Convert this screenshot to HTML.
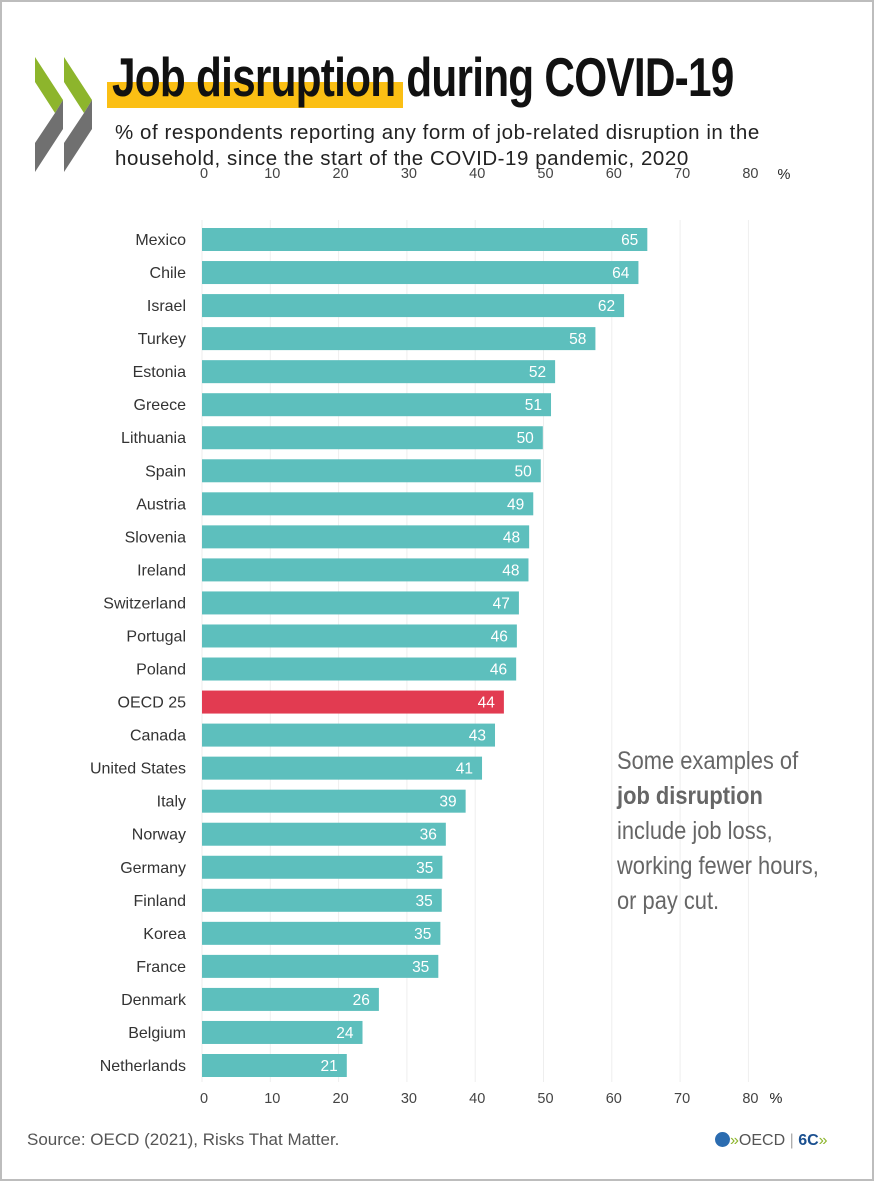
<!DOCTYPE html>
<html><head><meta charset="utf-8"><style>
body{margin:0;background:#fff;}
#wrap{position:relative;width:870px;height:1177px;border:2px solid #bdbdbd;overflow:hidden;font-family:"Liberation Sans",sans-serif;background:#fff}
.t{position:absolute;white-space:nowrap}
</style></head><body>
<div id="wrap">
<svg class="t" style="left:0;top:0" width="100" height="190">
<g fill="#8db52c"><polygon points="33,55 61,98 53,111 33,80"/><polygon points="62,55 90,98 82,111 62,80"/></g>
<g fill="#707070"><polygon points="53,111 61,98 61,127 33,170 33,141"/><polygon points="82,111 90,98 90,127 62,170 62,141"/></g>
</svg>
<div class="t" style="left:105px;top:80px;width:296px;height:26px;background:#fbbf14"></div>
<div class="t" style="left:110px;top:43px;font-size:55px;font-weight:bold;letter-spacing:-1px;color:#111;transform:scaleX(0.77);transform-origin:left top;font-family:'Liberation Sans Narrow','Liberation Sans',sans-serif">Job disruption during COVID-19</div>
<div class="t" style="left:113px;top:118px;font-size:20.5px;line-height:26px;letter-spacing:0.55px;color:#222;white-space:normal;width:700px">% of respondents reporting any form of job-related disruption in the household, since the start of the COVID-19 pandemic, 2020</div>
<svg id="chart" class="t" style="left:0;top:0" width="870" height="1177"></svg>
<div class="t" style="left:615px;top:742px;font-size:25px;line-height:35px;color:#666;transform:scaleX(0.875);transform-origin:left top;font-family:'Liberation Sans Narrow','Liberation Sans',sans-serif">Some examples of<br><b>job disruption</b><br>include job loss,<br>working fewer hours,<br>or pay cut.</div>
<div class="t" style="left:25px;top:1128px;font-size:17px;color:#555">Source: OECD (2021), Risks That Matter.</div>
<div class="t" style="left:713px;top:1130px;font-size:16px;color:#555"><span style="display:inline-block;width:15px;height:15px;border-radius:50%;background:#2b6cb0;vertical-align:-2px"></span><span style="color:#8db52c">»</span>OECD <span style="color:#aaa">|</span> <b style="color:#1a4f8f">6C</b><span style="color:#8db52c">»</span></div>
</div>
<script>
const countries=["Mexico","Chile","Israel","Turkey","Estonia","Greece","Lithuania","Spain","Austria","Slovenia","Ireland","Switzerland","Portugal","Poland","OECD 25","Canada","United States","Italy","Norway","Germany","Finland","Korea","France","Denmark","Belgium","Netherlands"];
const values=[65.2,63.9,61.8,57.6,51.7,51.1,49.9,49.6,48.5,47.9,47.8,46.4,46.1,46.0,44.2,42.9,41.0,38.6,35.7,35.2,35.1,34.9,34.6,25.9,23.5,21.2];
const labels=[65,64,62,58,52,51,50,50,49,48,48,47,46,46,44,43,41,39,36,35,35,35,35,26,24,21];
const ticks=[0,10,20,30,40,50,60,70,80];
const NS="http://www.w3.org/2000/svg";
const svg=document.getElementById('chart');
const x=v=>200+v*6.83;
const y=i=>226+i*33.04;
function mk(t,a){const e=document.createElementNS(NS,t);for(const k in a)e.setAttribute(k,a[k]);svg.appendChild(e);return e;}
ticks.forEach(t=>{
 const g=mk('line',{x1:x(t),x2:x(t),y1:218,y2:1080,stroke:'#eeeeee','stroke-width':1});
 
 
 [170,1095].forEach(yy=>{const l=mk('text',{x:x(t)+2,y:yy+6,'text-anchor':'middle','font-size':14.5,fill:'#444','font-family':'Liberation Sans, sans-serif'});l.textContent=t;
 
 });
});
[[782,177],[774,1101]].forEach(p=>{const l=mk('text',{x:p[0],y:p[1],'text-anchor':'middle','font-size':14.5,fill:'#222','font-family':'Liberation Sans, sans-serif'});l.textContent='%';

});
countries.forEach((c,i)=>{
 const r=mk('rect',{x:200,y:y(i),width:x(values[i])-200,height:23,fill:c==="OECD 25"?'#e23b51':'#5dbfbd'});
 
 
 const l=mk('text',{x:184,y:y(i)+17,'text-anchor':'end','font-size':16,fill:'#333','font-family':'Liberation Sans, sans-serif'});l.textContent=c;
 
 
 const v=mk('text',{x:x(values[i])-9,y:y(i)+17,'text-anchor':'end','font-size':15.5,fill:'#fff','font-family':'Liberation Sans, sans-serif'});v.textContent=labels[i];
 
 
});
</script>
</body></html>
